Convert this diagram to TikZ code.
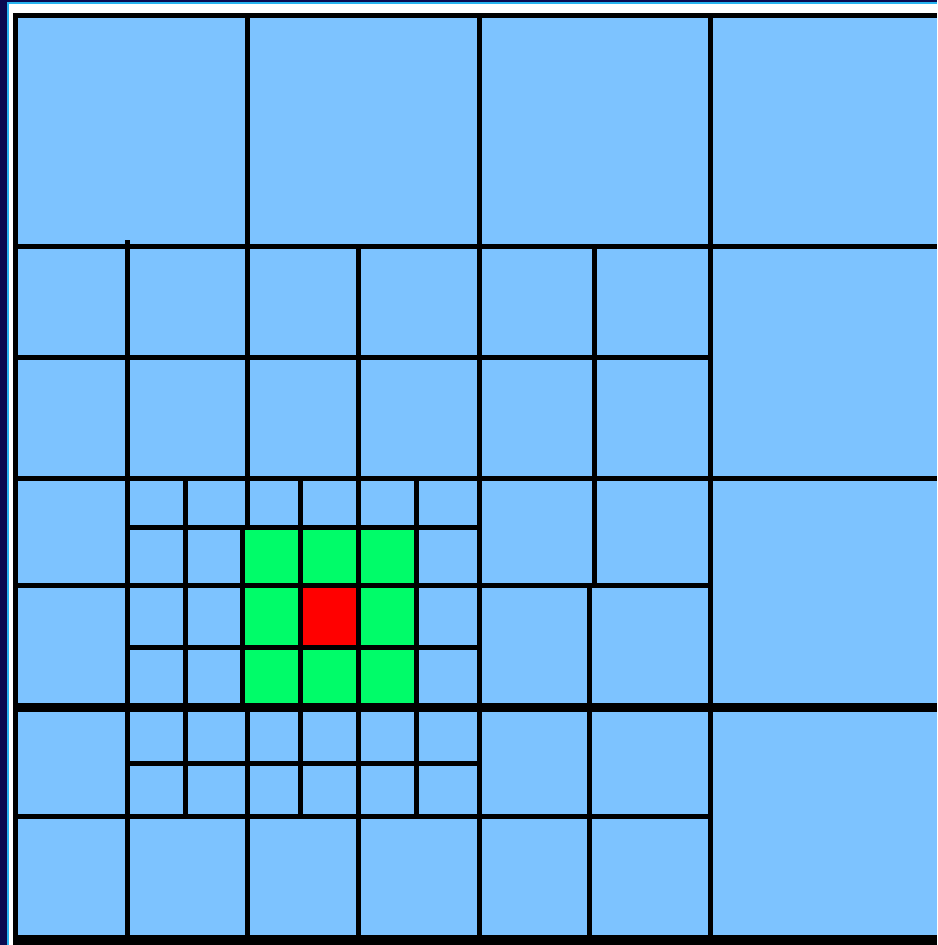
\documentclass[tikz,border=0pt]{standalone}
\definecolor{navyframe}{RGB}{10,10,80}
\definecolor{cyanframe}{RGB}{40,180,240}
\definecolor{cellblue}{RGB}{125,195,255}
\definecolor{cellgreen}{RGB}{0,252,105}
\definecolor{cellred}{RGB}{255,0,0}
\tikzset{
  gridline/.style={draw=black, line width=5pt},
  thickline/.style={draw=black, line width=9pt}
}
\begin{document}
\begin{tikzpicture}[x=1pt, y=-1pt]
\useasboundingbox (0,0) rectangle (937,945);
% frame
\fill[navyframe] (0,0) rectangle (937,945);
\fill[cyanframe] (7,2) rectangle (937,945);
\fill[white] (9,4) rectangle (937,945);
\fill[black] (13,13) rectangle (937,945);
\fill[cellblue] (18,18) rectangle (937,935);
% green block and red cell
\fill[cellgreen] (242.5,527.5) rectangle (416.5,707.5);
\fill[cellred] (300.5,585) rectangle (358.5,647);
% horizontal lines
\draw[gridline] (18,246.5) -- (937,246.5);
\draw[gridline] (18,357) -- (710.5,357);
\draw[gridline] (18,478.5) -- (937,478.5);
\draw[gridline] (127.5,527.5) -- (479,527.5);
\draw[gridline] (18,585) -- (710.5,585);
\draw[gridline] (127.5,647) -- (479,647);
\draw[gridline] (127.5,763) -- (479,763);
\draw[gridline] (18,816.5) -- (710.5,816.5);
% vertical lines
\draw[gridline] (127.5,240) -- (127.5,935);
\draw[gridline] (185,478.5) -- (185,816.5);
\draw[gridline] (247,18) -- (247,527.5);
\draw[gridline] (242.5,525) -- (242.5,707.5);
\draw[gridline] (247,707.5) -- (247,935);
\draw[gridline] (300.5,478.5) -- (300.5,816.5);
\draw[gridline] (358.5,246.5) -- (358.5,935);
\draw[gridline] (416.5,478.5) -- (416.5,816.5);
\draw[gridline] (479,18) -- (479,935);
\draw[gridline] (594.5,246.5) -- (594.5,587);
\draw[gridline] (589.5,588) -- (589.5,935);
\draw[gridline] (710.5,18) -- (710.5,935);
% thick horizontal line
\draw[thickline] (18,707.5) -- (937,707.5);
\end{tikzpicture}
\end{document}
